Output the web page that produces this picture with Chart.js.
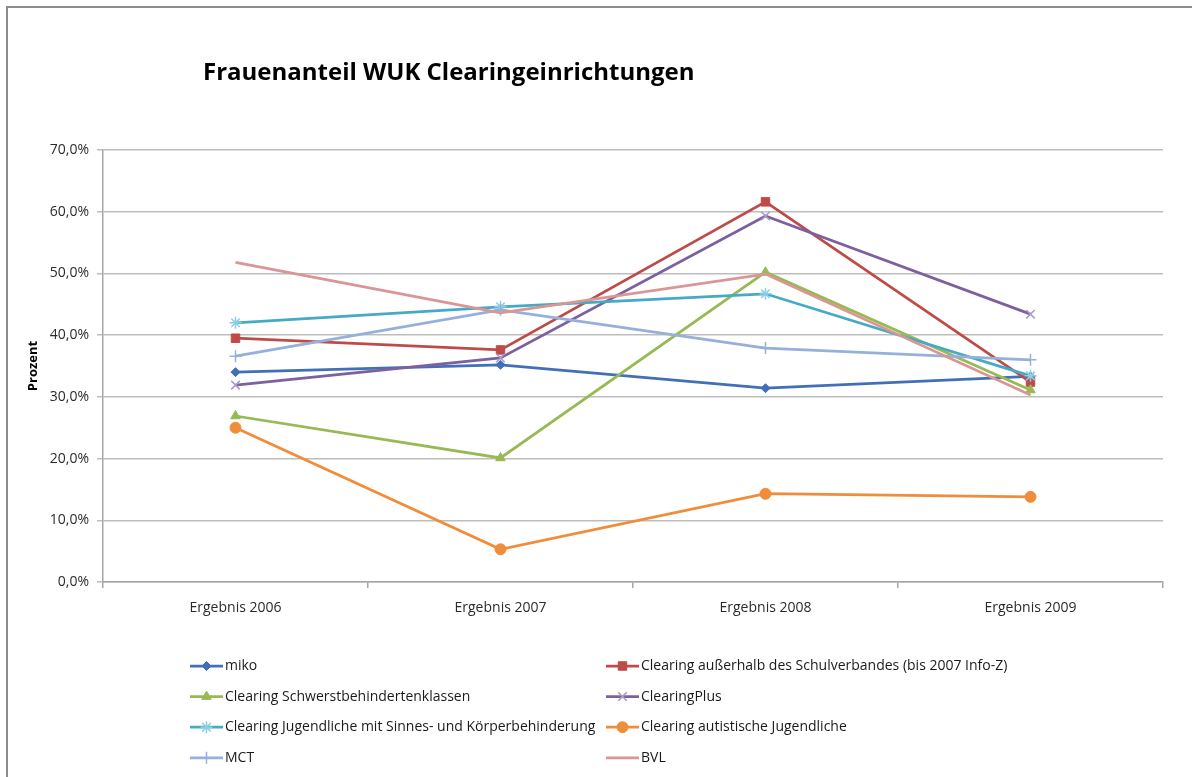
<!DOCTYPE html>
<html lang="de">
<head>
    <meta charset="UTF-8">
    <title>Frauenanteil WUK Clearingeinrichtungen</title>
    <script src="https://cdn.jsdelivr.net/npm/chart.js"></script>
    <style>
        body {
            margin: 0;
            background: #ffffff;
            font-family: 'Open Sans', sans-serif;
            overflow: hidden;
        }
        .frame {
            position: absolute;
            left: 6px;
            top: 6px;
            width: 1220px;
            height: 820px;
            border: 2px solid #8c8c8c;
        }
        .title {
            position: absolute;
            left: 203px;
            top: 54px;
            font-size: 24px;
            font-weight: bold;
            color: #000;
            white-space: nowrap;
        }
        #chart {
            position: absolute;
            left: 0;
            top: 0;
        }
    </style>
</head>
<body>
    <div class="frame"></div>
    <canvas id="chart" width="1192" height="777"></canvas>
    <div class="title">Frauenanteil WUK Clearingeinrichtungen</div>

    <script>
        // categories and values (percent)
        const categories = ['Ergebnis 2006', 'Ergebnis 2007', 'Ergebnis 2008', 'Ergebnis 2009'];
        const miko = [34.0, 35.2, 31.4, 33.3];
        const ausserhalb = [39.5, 37.6, 61.6, 32.4];
        const schwerst = [26.9, 20.1, 50.2, 31.1];
        const clearingPlus = [31.9, 36.3, 59.3, 43.4];
        const sinnes = [42.0, 44.6, 46.7, 33.4];
        const autistisch = [25.0, 5.3, 14.3, 13.8];
        const mct = [36.6, 44.1, 37.9, 36.0];
        const bvl = [51.8, 43.6, 49.9, 30.3];
        const yMin = 0, yMax = 70, yStep = 10;

        const fontFamily = "'Open Sans', sans-serif";

        function series(label, data, color, style, radius, pointColor, order) {
            return {
                label: label,
                data: data,
                borderColor: color,
                backgroundColor: color,
                borderWidth: 2.75,
                pointStyle: style,
                pointRadius: radius,
                pointHoverRadius: radius,
                pointBackgroundColor: pointColor || color,
                pointBorderColor: pointColor || color,
                pointBorderWidth: style === 'cross' || style === 'crossRot' || style === 'star' ? 1.5 : 1,
                tension: 0,
                order: order
            };
        }

        // custom two-column legend below the plot, like the Excel one
        const legendPlugin = {
            id: 'twoColLegend',
            afterDraw(chart) {
                const ctx = chart.ctx;
                const area = chart.chartArea;
                chart.data.datasets.forEach((ds, i) => {
                    const col = i % 2;
                    const row = Math.floor(i / 2);
                    const x = area.left + 87 + col * 416;
                    const y = area.bottom + 84 + row * 30.6;
                    ctx.save();
                    ctx.strokeStyle = ds.borderColor;
                    ctx.lineWidth = ds.borderWidth;
                    ctx.beginPath();
                    ctx.moveTo(x, y);
                    ctx.lineTo(x + 33, y);
                    ctx.stroke();
                    if (ds.pointRadius > 0) {
                        ctx.fillStyle = ds.pointBackgroundColor;
                        ctx.strokeStyle = ds.pointBorderColor;
                        ctx.lineWidth = ds.pointBorderWidth;
                        Chart.helpers.drawPoint(ctx, {
                            pointStyle: ds.pointStyle,
                            radius: ds.pointRadius,
                            borderWidth: ds.pointBorderWidth,
                            rotation: 0
                        }, x + 16.5, y);
                    }
                    ctx.fillStyle = '#1a1a1a';
                    ctx.font = '14px ' + fontFamily;
                    ctx.textBaseline = 'middle';
                    ctx.textAlign = 'left';
                    ctx.fillText(ds.label, x + 35, y);
                    ctx.restore();
                });
            }
        };

        const ctx = document.getElementById('chart').getContext('2d');
        const chart = new Chart(ctx, {
            type: 'line',
            data: {
                labels: categories,
                datasets: [
                    series('miko', miko, '#4170B8', 'rectRot', 4.5, null, 7),
                    series('Clearing außerhalb des Schulverbandes (bis 2007 Info-Z)', ausserhalb, '#BE4B48', 'rect', 6, null, 6),
                    series('Clearing Schwerstbehindertenklassen', schwerst, '#98B954', 'triangle', 5.5, null, 5),
                    series('ClearingPlus', clearingPlus, '#7D60A0', 'crossRot', 6, '#A99BCB', 4),
                    series('Clearing Jugendliche mit Sinnes- und Körperbehinderung', sinnes, '#46AAC5', 'star', 6, '#8ACFE2', 3),
                    series('Clearing autistische Jugendliche', autistisch, '#F08C3A', 'circle', 5.5, null, 2),
                    series('MCT', mct, '#95B0DA', 'cross', 6, null, 1),
                    series('BVL', bvl, '#D99694', 'circle', 0, null, 0)
                ]
            },
            options: {
                responsive: false,
                animation: false,
                devicePixelRatio: 1,
                layout: {
                    padding: { left: 0, top: 150, right: 29, bottom: 155 }
                },
                plugins: {
                    legend: { display: false },
                    title: { display: false },
                    tooltip: { enabled: false }
                },
                scales: {
                    x: {
                        offset: true,
                        grid: {
                            offset: true,
                            drawOnChartArea: false,
                            tickLength: 6,
                            color: '#a6a6a6',
                            lineWidth: 1.5
                        },
                        border: { color: '#a6a6a6', width: 1.5 },
                        ticks: {
                            padding: 12,
                            color: '#2b2b2b',
                            font: { family: fontFamily, size: 14 }
                        },
                        afterFit(scale) { scale.height = 40; }
                    },
                    y: {
                        min: yMin,
                        max: yMax,
                        ticks: {
                            stepSize: yStep,
                            padding: 8,
                            color: '#2b2b2b',
                            font: { family: fontFamily, size: 14 },
                            callback: v => v.toFixed(1).replace('.', ',') + '%'
                        },
                        grid: {
                            color: '#bdbdbd',
                            lineWidth: 1.5,
                            tickLength: 6
                        },
                        border: { color: '#a6a6a6', width: 1.5 },
                        title: {
                            display: true,
                            text: 'Prozent',
                            color: '#000',
                            font: { family: fontFamily, size: 13, weight: 'bold' },
                            padding: { top: 25, bottom: 0 }
                        },
                        afterFit(scale) { scale.width = 103; }
                    }
                }
            },
            plugins: [legendPlugin]
        });
    </script>
</body>
</html>
